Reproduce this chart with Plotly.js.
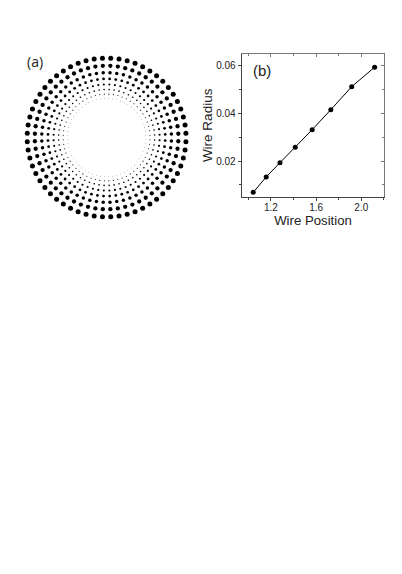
<!DOCTYPE html>
<html>
<head>
<meta charset="utf-8">
<script src="https://cdn.plot.ly/plotly-3.0.1.min.js"></script>
<style>
html, body { margin: 0; padding: 0; background: #fff; }
</style>
</head>
<body>
<div id="plotter" style="width:402px;height:574px;"></div>
<script>
var wirePosition = [1.043, 1.158, 1.28, 1.415, 1.565, 1.73, 1.915, 2.118];
var wireRadius = [0.0068, 0.0133, 0.0193, 0.0258, 0.0332, 0.0416, 0.0513, 0.0595];
var wiresPerRing = 60;
var xTicks = [1.2, 1.6, 2.0];
var xTickText = ['1.2', '1.6', '2.0'];
var yTicks = [0.02, 0.04, 0.06];
var yTickText = ['0.02', '0.04', '0.06'];

// every ring has the same number of wires, half a step off the axes
var ringR = [], ringTheta = [], ringSize = [];
wirePosition.forEach(function (pos, i) {
    for (var k = 0; k < wiresPerRing; k++) {
        ringR.push(pos);
        ringTheta.push((k + 0.5) * 360 / wiresPerRing);
        ringSize.push(wireRadius[i]);
    }
});

var W = 402, H = 574;
var data = [{
    type: 'scatterpolar',
    mode: 'markers',
    r: ringR,
    theta: ringTheta,
    cliponaxis: false,
    hoverinfo: 'skip',
    marker: {color: '#000', opacity: 1, size: ringSize, sizemode: 'diameter', sizeref: 1 / 84, sizemin: 0, line: {width: 0}}
}, {
    type: 'scatter',
    mode: 'lines+markers',
    x: wirePosition,
    y: wireRadius,
    xaxis: 'x',
    yaxis: 'y',
    line: {color: '#000', width: 1},
    marker: {color: '#000', size: 5}
}, {
    // empty trace so the mirror axes get drawn
    type: 'scatter',
    mode: 'none',
    x: wirePosition,
    y: wireRadius,
    xaxis: 'x2',
    yaxis: 'y2',
    hoverinfo: 'skip'
}];

var font = 'Liberation Sans, Arial, sans-serif';
var xRange = [0.941, 2.2035];
var yRange = [0.00497, 0.06505];
var xDomain = [241.7 / W, 384.3 / W];
var yDomain = [1 - 196.7 / H, 1 - 54 / H];

var layout = {
    width: W,
    height: H,
    margin: {l: 0, r: 0, t: 0, b: 0},
    paper_bgcolor: '#fff',
    plot_bgcolor: '#fff',
    showlegend: false,
    polar: {
        domain: {x: [(106.6 - 93.75) / W, (106.6 + 93.75) / W], y: [1 - (137.5 + 93.75) / H, 1 - (137.5 - 93.75) / H]},
        bgcolor: 'rgba(0,0,0,0)',
        radialaxis: {visible: false, range: [0, 2.5]},
        angularaxis: {visible: false}
    },
    xaxis: {
        domain: xDomain,
        anchor: 'y',
        range: xRange,
        tickvals: xTicks,
        ticktext: xTickText,
        ticks: 'outside',
        ticklen: 3,
        tickwidth: 1,
        tickcolor: '#444',
        ticklabelstandoff: -2,
        showgrid: false,
        zeroline: false,
        showline: true,
        linecolor: '#444',
        linewidth: 1,
        minor: {dtick: 0.2, ticks: 'outside', ticklen: 2, tickcolor: '#444', showgrid: false},
        tickfont: {family: font, size: 10, color: '#222'},
        title: {text: 'Wire Position', font: {family: font, size: 13.2, color: '#222'}, standoff: 0}
    },
    yaxis: {
        domain: yDomain,
        anchor: 'x',
        range: yRange,
        tickvals: yTicks,
        ticktext: yTickText,
        ticks: 'outside',
        ticklen: 3,
        tickwidth: 1,
        tickcolor: '#444',
        showgrid: false,
        zeroline: false,
        showline: true,
        linecolor: '#444',
        linewidth: 1,
        minor: {dtick: 0.01, ticks: 'outside', ticklen: 2, tickcolor: '#444', showgrid: false},
        tickfont: {family: font, size: 10, color: '#222'},
        title: {text: 'Wire Radius', font: {family: font, size: 13.5, color: '#222'}, standoff: 0}
    },
    // top and right edges carry the same ticks pointing inwards
    xaxis2: {
        domain: xDomain,
        anchor: 'y2',
        overlaying: 'x',
        side: 'top',
        range: xRange,
        tickvals: xTicks,
        ticks: 'inside',
        ticklen: 3,
        tickcolor: '#777',
        showticklabels: false,
        showgrid: false,
        zeroline: false,
        showline: true,
        linecolor: '#777',
        linewidth: 1,
        minor: {dtick: 0.2, ticks: 'inside', ticklen: 2, tickcolor: '#777', showgrid: false}
    },
    yaxis2: {
        domain: yDomain,
        anchor: 'x2',
        overlaying: 'y',
        side: 'right',
        range: yRange,
        tickvals: yTicks,
        ticks: 'inside',
        ticklen: 3,
        tickcolor: '#777',
        showticklabels: false,
        showgrid: false,
        zeroline: false,
        showline: true,
        linecolor: '#777',
        linewidth: 1,
        minor: {dtick: 0.01, ticks: 'inside', ticklen: 2, tickcolor: '#777', showgrid: false}
    },
    annotations: [{
        text: '(a)', xref: 'paper', yref: 'paper',
        x: 34.5 / W, y: 1 - 61 / H, xanchor: 'center', yanchor: 'middle', showarrow: false,
        font: {family: 'Open Sans, sans-serif', size: 14, color: '#222'}
    }, {
        text: '(b)', xref: 'paper', yref: 'paper',
        x: 261.7 / W, y: 1 - 70 / H, xanchor: 'center', yanchor: 'middle', showarrow: false,
        font: {family: font, size: 15, color: '#222'}
    }]
};

Plotly.newPlot('plotter', data, layout, {displayModeBar: false, staticPlot: true});
</script>
</body>
</html>
